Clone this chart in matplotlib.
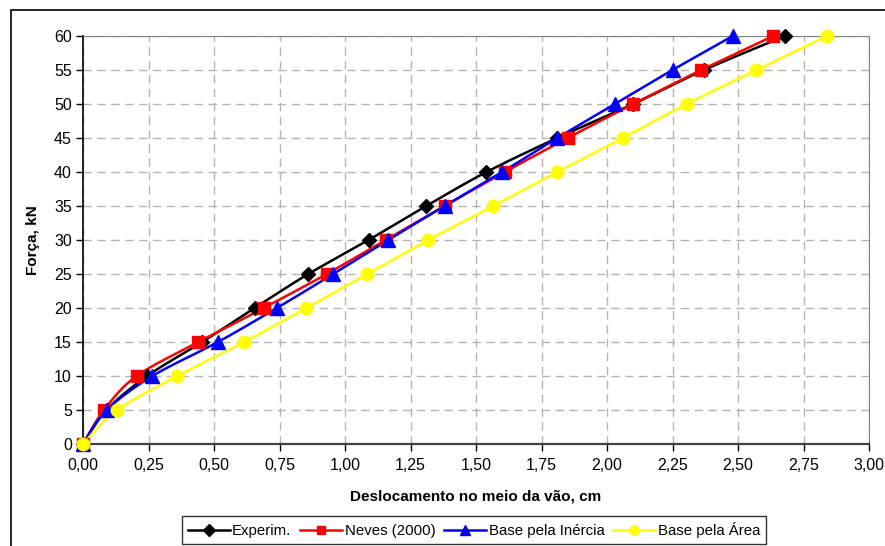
import numpy as np
import matplotlib
matplotlib.use("Agg")
import matplotlib.pyplot as plt
from matplotlib.patches import Rectangle
from matplotlib.ticker import FuncFormatter, MultipleLocator

plt.rcParams['font.family'] = ['Liberation Sans', 'DejaVu Sans']

# Load levels (kN) and mid-span displacements (cm)
forca = [0, 5, 10, 15, 20, 25, 30, 35, 40, 45, 50, 55, 60]
experim = [0.00, 0.09, 0.245, 0.455, 0.655, 0.86, 1.09, 1.31, 1.54, 1.81, 2.10, 2.37, 2.68]
neves = [0.00, 0.08, 0.205, 0.44, 0.69, 0.93, 1.155, 1.38, 1.61, 1.85, 2.10, 2.36, 2.635]
inercia = [0.00, 0.09, 0.265, 0.515, 0.74, 0.955, 1.165, 1.38, 1.60, 1.81, 2.03, 2.25, 2.48]
area = [0.00, 0.13, 0.36, 0.615, 0.853, 1.085, 1.318, 1.566, 1.81, 2.06, 2.305, 2.57, 2.84]

series = [
    ("Experim.", experim, "#000000", "D", 7.5),
    ("Neves (2000)", neves, "#FF0000", "s", 8.5),
    ("Base pela Inércia", inercia, "#0000FF", "^", 9.5),
    ("Base pela Área", area, "#FFFF00", "o", 9.0),
]


def smooth(x, y, n=20):
    """Smoothed curve through the points (cubic Bezier with Catmull-Rom tangents)."""
    p = np.column_stack([x, y]).astype(float)
    out = [p[0]]
    t = np.linspace(0, 1, n)[1:]
    for i in range(len(p) - 1):
        p0 = p[i - 1] if i > 0 else p[i]
        p1, p2 = p[i], p[i + 1]
        p3 = p[i + 2] if i + 2 < len(p) else p[i + 1]
        c1 = p1 + (p2 - p0) / 6.0
        c2 = p2 - (p3 - p1) / 6.0
        for tt in t:
            b = ((1 - tt) ** 3) * p1 + 3 * ((1 - tt) ** 2) * tt * c1 \
                + 3 * (1 - tt) * tt ** 2 * c2 + tt ** 3 * p2
            out.append(b)
    out = np.array(out)
    return out[:, 0], out[:, 1]


fig = plt.figure(figsize=(8.85, 5.46), dpi=100)
ax = fig.add_axes([83 / 885, 1 - 444 / 546, (869 - 83) / 885, (444 - 36) / 546])

# Outer chart frame
fig.patches.append(Rectangle((11 / 885, -0.1), 1.2, 1 - 10 / 546 + 0.1,
                             transform=fig.transFigure, fill=False,
                             edgecolor='black', linewidth=1.2))

handles = []
for label, xs, color, marker, ms in series:
    sx, sy = smooth(xs, forca)
    ax.plot(sx, sy, color=color, lw=1.8, zorder=3, clip_on=False)
    ax.plot(xs, forca, linestyle='none', marker=marker, color=color,
            markersize=ms, markeredgecolor=color, zorder=4, clip_on=False)
    h, = ax.plot([], [], color=color, lw=1.8, marker=marker,
                 markersize=ms * 0.75, markeredgecolor=color)
    handles.append((h, label))

ax.set_xlim(0, 3.0)
ax.set_ylim(0, 60)
ax.xaxis.set_major_locator(MultipleLocator(0.25))
ax.yaxis.set_major_locator(MultipleLocator(5))
ax.xaxis.set_major_formatter(FuncFormatter(lambda v, p: f"{v:.2f}".replace('.', ',')))
ax.yaxis.set_major_formatter(FuncFormatter(lambda v, p: f"{v:.0f}"))

ax.grid(True, color='#B4B4B4', linestyle=(0, (6, 4)), linewidth=1.0)
ax.set_axisbelow(True)

ax.spines['top'].set_color('#808080')
ax.spines['right'].set_color('#808080')
ax.spines['left'].set_color('#000000')
ax.spines['bottom'].set_color('#404040')
ax.spines['bottom'].set_linewidth(1.6)
ax.spines['left'].set_linewidth(1.2)

ax.tick_params(axis='both', direction='out', length=5, width=1.0,
               labelsize=11.5, colors='black', pad=3)
ax.tick_params(axis='x', pad=5)

ax.set_xlabel("Deslocamento no meio da vão, cm", fontsize=11,
              fontweight='bold', labelpad=12)
ax.set_ylabel("Força, kN", fontsize=11, fontweight='bold', labelpad=10)

leg = fig.legend([h for h, _ in handles], [l for _, l in handles],
                 loc='center', bbox_to_anchor=(474 / 885, 1 - 530 / 546),
                 ncol=4, frameon=True, fontsize=10.8, handlelength=2.8,
                 handletextpad=0.15, columnspacing=0.6, borderpad=0.4,
                 fancybox=False, edgecolor='black')
leg.get_frame().set_linewidth(1.0)

fig.savefig("out.png", dpi=100)
